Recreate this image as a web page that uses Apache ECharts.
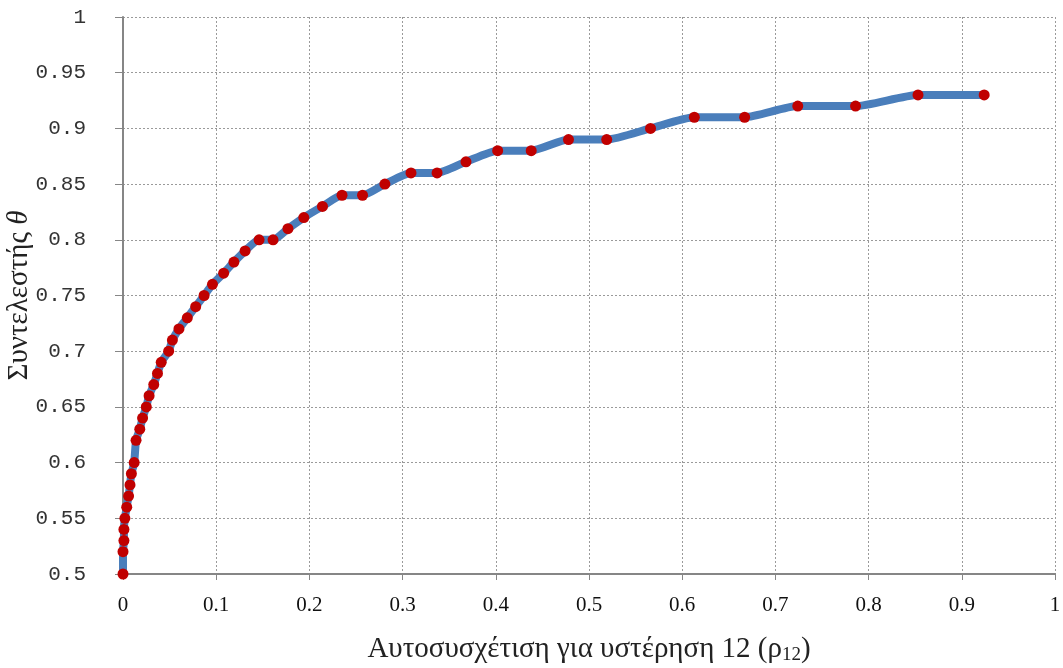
<!DOCTYPE html>
<html>
<head>
<meta charset="utf-8">
<script src="https://cdn.jsdelivr.net/npm/echarts@6/dist/echarts.min.js"></script>
<style>html,body{margin:0;padding:0;background:#fff;}#c{width:1063px;height:668px;}</style>
</head>
<body>
<div id="c"></div>
<script>
// Autocorrelation at lag 12 (x) and coefficient theta (y)
const rho = [0, 0, 0.001, 0.001, 0.002, 0.004, 0.006, 0.0075, 0.009, 0.012,
  0.014, 0.018, 0.021, 0.025, 0.028, 0.033, 0.037, 0.041, 0.049, 0.053,
  0.060, 0.069, 0.078, 0.087, 0.096, 0.108, 0.119, 0.131, 0.146, 0.161,
  0.177, 0.194, 0.214, 0.235, 0.257, 0.281, 0.309, 0.337, 0.368, 0.402,
  0.438, 0.478, 0.519, 0.566, 0.613, 0.667, 0.724, 0.786, 0.853, 0.924];
const theta = [0.50, 0.52, 0.53, 0.54, 0.55, 0.56, 0.57, 0.58, 0.59, 0.60,
  0.62, 0.63, 0.64, 0.65, 0.66, 0.67, 0.68, 0.69, 0.70, 0.71,
  0.72, 0.73, 0.74, 0.75, 0.76, 0.77, 0.78, 0.79, 0.80, 0.80,
  0.81, 0.82, 0.83, 0.84, 0.84, 0.85, 0.86, 0.86, 0.87, 0.88,
  0.88, 0.89, 0.89, 0.90, 0.91, 0.91, 0.92, 0.92, 0.93, 0.93];
const xTitle = 'Αυτοσυσχέτιση για υστέρηση 12 (';
const yTitle = 'Συντελεστής ';

const pts = rho.map((x, i) => [x, theta[i]]);
const chart = echarts.init(document.getElementById('c'), null, {renderer: 'canvas'});
const gridLine = {show: true, lineStyle: {color: '#9a9a9a', type: [2, 2], width: 1}};
chart.setOption({
  backgroundColor: '#ffffff',
  animation: false,
  grid: {left: 123, right: 8, top: 17, bottom: 94, containLabel: false, outerBoundsMode: 'none'},
  xAxis: {
    type: 'value', min: 0, max: 1, interval: 0.1,
    axisLine: {show: true, onZero: false, lineStyle: {color: '#868686', width: 2}},
    axisTick: {show: true, length: 6, lineStyle: {color: '#868686'}},
    splitLine: gridLine,
    axisLabel: {color: '#111', fontFamily: 'Liberation Serif', fontSize: 21, margin: 21},
    name: '{t|' + xTitle + 'ρ}{s|12}{t|)}',
    nameLocation: 'middle', nameGap: 60, nameMoveOverlap: false,
    nameTextStyle: {
      rich: {
        t: {fontFamily: 'Liberation Serif', fontSize: 29, color: '#222'},
        s: {fontFamily: 'Liberation Serif', fontSize: 19, color: '#222', padding: [12, 0, 0, 0]}
      }
    }
  },
  yAxis: {
    type: 'value', min: 0.5, max: 1, interval: 0.05,
    axisLine: {show: true, onZero: false, lineStyle: {color: '#868686', width: 2}},
    axisTick: {show: true, length: 8, lineStyle: {color: '#868686'}},
    splitLine: gridLine,
    axisLabel: {color: '#333', fontFamily: 'Liberation Mono', fontSize: 21, margin: 37},
    name: '{t|' + yTitle + '}{i|θ}',
    nameLocation: 'middle', nameGap: 89, nameRotate: 90, nameMoveOverlap: false,
    nameTextStyle: {
      rich: {
        t: {fontFamily: 'Liberation Serif', fontSize: 29, color: '#222'},
        i: {fontFamily: 'Liberation Serif', fontSize: 29, fontStyle: 'italic', color: '#222'}
      }
    }
  },
  series: [{
    type: 'line',
    data: pts,
    smooth: 0.2,
    lineStyle: {color: '#4a7ebb', width: 8},
    symbol: 'circle',
    symbolSize: 11,
    itemStyle: {color: '#c00000', borderWidth: 0},
    z: 3
  }]
});
</script>
</body>
</html>
